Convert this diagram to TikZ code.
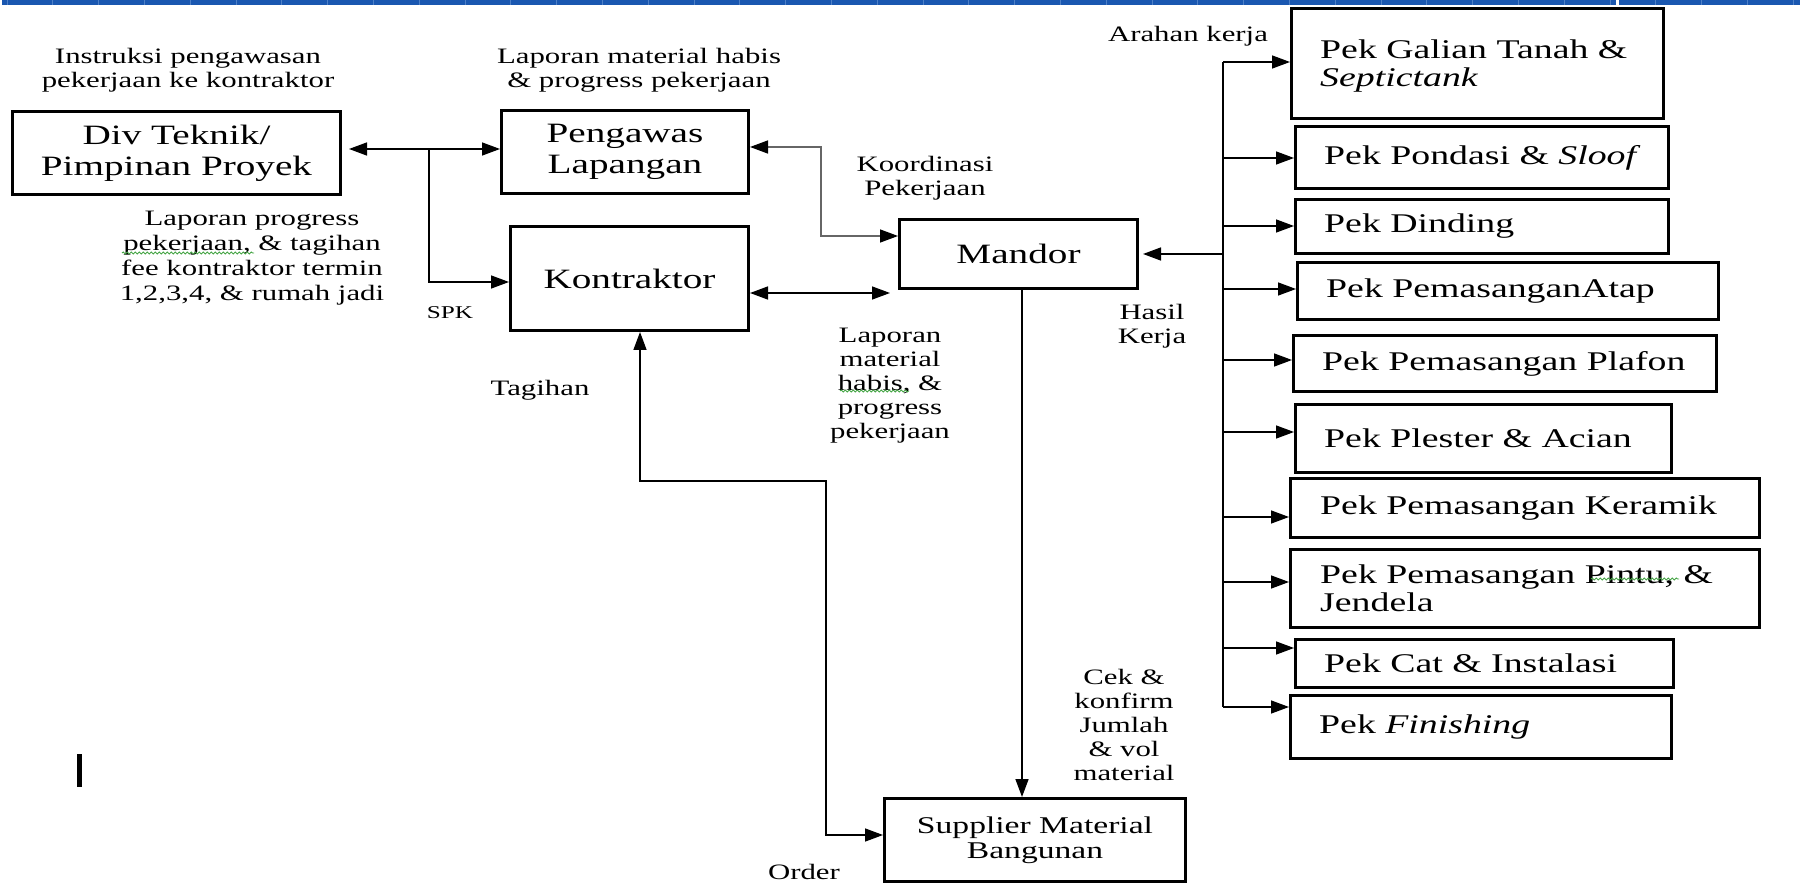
\documentclass[tikz,border=0pt]{standalone}
\usepackage{fontspec}
\setmainfont{Liberation Serif}[FakeStretch=1.4]
\usetikzlibrary{arrows.meta,decorations.pathmorphing,calc}
\definecolor{bandblue}{RGB}{26,87,176}
\definecolor{bandline}{RGB}{78,128,198}
\definecolor{squig}{RGB}{70,165,70}
\begin{document}
\begin{tikzpicture}[x=1pt,y=-1pt,
  box/.style={draw,line width=3pt,inner sep=0pt,anchor=north west},
  ctext/.style={align=center,font=\fontsize{28}{31}\selectfont},
  stext/.style={align=center,font=\fontsize{24}{25}\selectfont},
  rtext/.style={align=left,anchor=west,inner sep=0pt,font=\fontsize{27}{28}\selectfont},
  lbl/.style={align=center,inner sep=0pt,font=\fontsize{22}{24}\selectfont},
  conn/.style={line width=1.5pt},
  tip/.tip={Triangle[length=18pt,width=13pt,color=black]},
  arr/.style={-tip},
  both/.style={tip-tip},
  squiggle/.style={draw=squig,line width=0.9pt,decorate,decoration={snake,amplitude=1pt,segment length=4pt}}
]
\useasboundingbox (0,0) rectangle (1800,885);
% top band
\fill[bandblue] (2,0) rectangle (1800,5);
\foreach \i in {0,...,39} \draw[bandline,line width=1pt] ({7+45.8*\i},0) -- ++(0,5);
\fill[white] (1616,0) rectangle (1619,5);

% left boxes
\node[box,ctext,minimum width=328pt,minimum height=83pt] (div) at (11,110) {Div Teknik/\\Pimpinan Proyek};
\node[box,ctext,minimum width=247pt,minimum height=83pt] (peng) at (500,109) {Pengawas\\Lapangan};
\node[box,ctext,minimum width=238pt,minimum height=104pt] (kon) at (509,225) {Kontraktor};
\node[box,ctext,minimum width=238pt,minimum height=69pt] (man) at (898,218) {Mandor};
\node[box,stext,minimum width=301pt,minimum height=83pt] (sup) at (883,797) {Supplier Material\\Bangunan};

% right boxes
\node[box,minimum width=372pt,minimum height=110pt] (b1) at (1290,7) {};
\node[box,minimum width=373pt,minimum height=62pt] (b2) at (1294,125) {};
\node[box,minimum width=373pt,minimum height=54pt] (b3) at (1294,198) {};
\node[box,minimum width=421pt,minimum height=57pt] (b4) at (1296,261) {};
\node[box,minimum width=423pt,minimum height=56pt] (b5) at (1292,334) {};
\node[box,minimum width=376pt,minimum height=68pt] (b6) at (1294,403) {};
\node[box,minimum width=469pt,minimum height=59pt] (b7) at (1289,477) {};
\node[box,minimum width=469pt,minimum height=78pt] (b8) at (1289,548) {};
\node[box,minimum width=378pt,minimum height=48pt] (b9) at (1294,638) {};
\node[box,minimum width=381pt,minimum height=63pt] (b10) at (1289,694) {};

\node[rtext] (t1) at ([xshift=30pt,yshift=-3pt]b1.west) {Pek Galian Tanah \&\\\textit{Septictank}};
\node[rtext] (t2) at ([xshift=30pt]b2.west) {Pek Pondasi \& \textit{Sloof}};
\node[rtext] (t3) at ([xshift=30pt]b3.west) {Pek Dinding};
\node[rtext] (t4) at ([xshift=30pt]b4.west) {Pek PemasanganAtap};
\node[rtext] (t5) at ([xshift=30pt]b5.west) {Pek Pemasangan Plafon};
\node[rtext] (t6) at ([xshift=30pt]b6.west) {Pek Plester \& Acian};
\node[rtext] (t7) at ([xshift=31pt]b7.west) {Pek Pemasangan Keramik};
\node[rtext] (t8) at ([xshift=31pt]b8.west) {Pek Pemasangan Pintu, \&\\Jendela};
\node[rtext] (t9) at ([xshift=30pt]b9.west) {Pek Cat \& Instalasi};
\node[rtext] (t10) at ([xshift=30pt]b10.west) {Pek \textit{Finishing}};

% connectors
\coordinate (j1) at (429,149);
\coordinate (j2) at (429,282);
\draw[conn,both,shorten <=7pt] (div.east |- j1) -- (peng.west |- j1);
\draw[conn,arr] (j1) -- (j2) -- (kon.west |- j2);

\coordinate (k1) at (821,147);
\coordinate (k2) at (821,236);
\draw[conn,both,draw=black!60] (peng.east |- k1) -- (k1) -- (k2) -- (man.west |- k2);

\coordinate (m1) at (890,293);
\draw[conn,both] (kon.east |- m1) -- (m1);

\coordinate (o1) at (640,481);
\coordinate (o2) at (826,481);
\coordinate (o3) at (826,835);
\draw[conn,both] (kon.south -| o1) -- (o1) -- (o2) -- (o3) -- (sup.west |- o3);

\coordinate (s1) at (1022,500);
\draw[conn,arr] (man.south -| s1) -- (sup.north -| s1);

\coordinate (bt) at (1223,62);
\coordinate (bb) at (1223,707);
\draw[conn] (bt) -- (bb);
\draw[conn,arr] (bt) -- (b1.west |- bt);
\draw[conn,arr] (bt |- 0,158) -- (b2.west |- 0,158);
\draw[conn,arr] (bt |- 0,226) -- (b3.west |- 0,226);
\draw[conn,arr] (bt |- 0,289) -- (b4.west |- 0,289);
\draw[conn,arr] (bt |- 0,360) -- (b5.west |- 0,360);
\draw[conn,arr] (bt |- 0,432) -- (b6.west |- 0,432);
\draw[conn,arr] (bt |- 0,517) -- (b7.west |- 0,517);
\draw[conn,arr] (bt |- 0,582) -- (b8.west |- 0,582);
\draw[conn,arr] (bt |- 0,648) -- (b9.west |- 0,648);
\draw[conn,arr] (bb) -- (b10.west |- bb);
\draw[conn,arr,shorten >=4pt] (bt |- man.east) -- (man.east);

% labels
\node[lbl] (l1) at (188,70) {Instruksi pengawasan\\pekerjaan ke kontraktor};
\node[lbl] (l2) at (639,70) {Laporan material habis\\\& progress pekerjaan};
\node[lbl,font=\fontsize{22}{25}\selectfont] (l3) at (252,258) {Laporan progress\\pekerjaan, \& tagihan\\fee kontraktor termin\\1,2,3,4, \& rumah jadi};
\node[lbl,font=\fontsize{18}{20}\selectfont] (l4) at (450,313) {SPK};
\node[lbl] (l5) at (540,390) {Tagihan};
\node[lbl] (l6) at (925,178) {Koordinasi\\Pekerjaan};
\node[lbl] (l7) at (890,386) {Laporan\\material\\habis, \&\\progress\\pekerjaan};
\node[lbl] (l8) at (1188,36) {Arahan kerja};
\node[lbl] (l9) at (1152,326) {Hasil\\Kerja};
\node[lbl] (l10) at (1124,725) {Cek \&\\konfirm\\Jumlah\\\& vol\\material};
\node[lbl] (l11) at (804,872) {Order};

% spell-check squiggles
\path[squiggle] (122,253) -- (254,253);
\path[squiggle] (840,391) -- (909,391);
\path[squiggle] (1591,579) -- (1679,579);

% text cursor
\fill (77,754) rectangle (82,787);
\end{tikzpicture}
\end{document}
